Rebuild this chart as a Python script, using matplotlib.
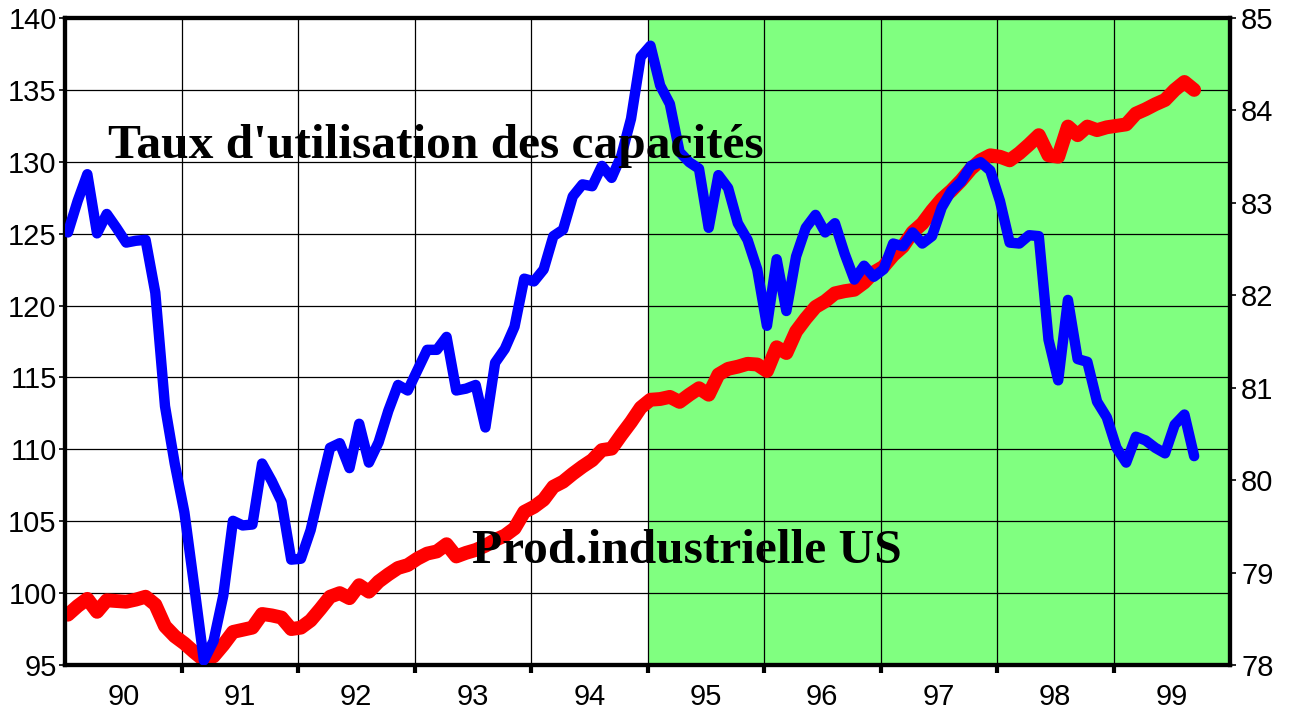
import numpy as np
import matplotlib
matplotlib.use('Agg')
import matplotlib.pyplot as plt

# ===== DANE (miesięcznie od 01.1990) =====
prod_us = [
    98.5, 99.1, 99.6, 98.7, 99.5, 99.45, 99.4, 99.55, 99.75, 99.2,
    97.7, 97.0, 96.5, 95.9, 95.35, 95.6, 96.4, 97.3, 97.45, 97.6,
    98.55, 98.45, 98.3, 97.5, 97.6, 98.1, 98.9, 99.75, 100.0, 99.65,
    100.55, 100.1, 100.8, 101.3, 101.75, 101.95, 102.4, 102.75, 102.9, 103.4,
    102.55, 102.8, 103.0, 103.3, 103.7, 104.0, 104.5, 105.65, 106.0, 106.5,
    107.4, 107.75, 108.3, 108.8, 109.25, 109.95, 110.05, 111.0, 111.9, 112.9,
    113.45, 113.5, 113.65, 113.3, 113.8, 114.25, 113.8, 115.2, 115.6, 115.75,
    115.95, 115.9, 115.45, 117.1, 116.7, 118.2, 119.1, 119.9, 120.3, 120.85,
    121.0, 121.1, 121.6, 122.3, 122.7, 123.5, 124.1, 125.1, 125.7, 126.6,
    127.4, 128.0, 128.7, 129.5, 130.1, 130.45, 130.35, 130.1, 130.6, 131.2,
    131.85, 130.45, 130.35, 132.45, 131.85, 132.45, 132.2, 132.4, 132.5, 132.6,
    133.35, 133.65, 134.0, 134.3, 135.0, 135.55, 135.0,
]

taux_util = [
    82.68, 83.02, 83.31, 82.67, 82.88, 82.73, 82.57, 82.59, 82.60, 82.03,
    80.80, 80.18, 79.65, 78.86, 78.05, 78.26, 78.75, 79.56, 79.51, 79.52,
    80.18, 79.99, 79.77, 79.14, 79.15, 79.46, 79.91, 80.35, 80.40, 80.13,
    80.61, 80.19, 80.41, 80.75, 81.03, 80.97, 81.19, 81.41, 81.41, 81.55,
    80.97, 80.99, 81.03, 80.57, 81.27, 81.42, 81.66, 82.18, 82.15, 82.28,
    82.64, 82.71, 83.07, 83.20, 83.18, 83.40, 83.27, 83.51, 83.91, 84.58,
    84.70, 84.27, 84.07, 83.55, 83.44, 83.37, 82.73, 83.30, 83.16, 82.78,
    82.60, 82.28, 81.67, 82.39, 81.83, 82.42, 82.73, 82.87, 82.68, 82.78,
    82.45, 82.17, 82.32, 82.20, 82.28, 82.56, 82.53, 82.68, 82.56, 82.64,
    82.95, 83.13, 83.23, 83.40, 83.44, 83.35, 83.02, 82.57, 82.56, 82.65,
    82.64, 81.52, 81.08, 81.95, 81.31, 81.28, 80.85, 80.68, 80.35, 80.19,
    80.47, 80.43, 80.35, 80.29, 80.60, 80.71, 80.26,
]

years = list(range(1990, 2000))
year_labels = ['90', '91', '92', '93', '94', '95', '96', '97', '98', '99']
left_ticks = [95, 100, 105, 110, 115, 120, 125, 130, 135, 140]
right_ticks = [78, 79, 80, 81, 82, 83, 84, 85]
green_start = 1995

# daty jako ułamek roku
t = 1990 + (np.arange(len(prod_us)) + 0.3) / 12

# ===== WYKRES =====
plt.rcParams['font.family'] = ['Liberation Sans', 'DejaVu Sans']
fig = plt.figure(figsize=(13, 7.17), dpi=100)
ax = fig.add_axes([0.05, 0.0725, 0.8962, 0.9024])
ax2 = ax.twinx()

ax.axvspan(green_start, 2000, color='#80FF80', zorder=0, lw=0)
ax.plot(t, prod_us, color='#FF0000', lw=10, solid_capstyle='round', solid_joinstyle='round', zorder=3)
ax2.plot(t, taux_util, color='#0000FF', lw=7.5, solid_capstyle='round', solid_joinstyle='round', zorder=3)

ax.set_xlim(1990, 2000)
ax.set_ylim(95, 140)
ax2.set_ylim(78, 85)

ax.set_xticks(years[1:])
ax.set_xticklabels([])
ax.set_xticks([y + 0.5 for y in years], minor=True)
ax.set_xticklabels(year_labels, minor=True)
ax.set_yticks(left_ticks)
ax2.set_yticks(right_ticks)

ax.grid(True, which='major', color='black', lw=0.9, zorder=1)
ax.set_axisbelow(True)

ax.tick_params(axis='x', which='major', direction='out', length=6, width=3, color='black')
ax.tick_params(axis='x', which='minor', length=0, pad=13, labelsize=21)
ax.tick_params(axis='y', direction='out', length=4, width=1.2, pad=2, labelsize=21)
ax2.tick_params(axis='y', direction='out', length=4, width=1.2, pad=4, labelsize=21)

for a in (ax, ax2):
    for s in a.spines.values():
        s.set_linewidth(3)
        s.set_color('black')

txt_font = dict(family=['Liberation Serif', 'DejaVu Serif'], fontweight='bold', fontsize=35.6, color='black')
ax2.text(0.037, 0.7836, "Taux d'utilisation des capacités", transform=ax2.transAxes,
         ha='left', va='baseline', zorder=6, **txt_font)
ax2.text(0.3494, 0.1577, "Prod.industrielle US", transform=ax2.transAxes,
         ha='left', va='baseline', zorder=6, **txt_font)

plt.savefig('out.png', dpi=100)
